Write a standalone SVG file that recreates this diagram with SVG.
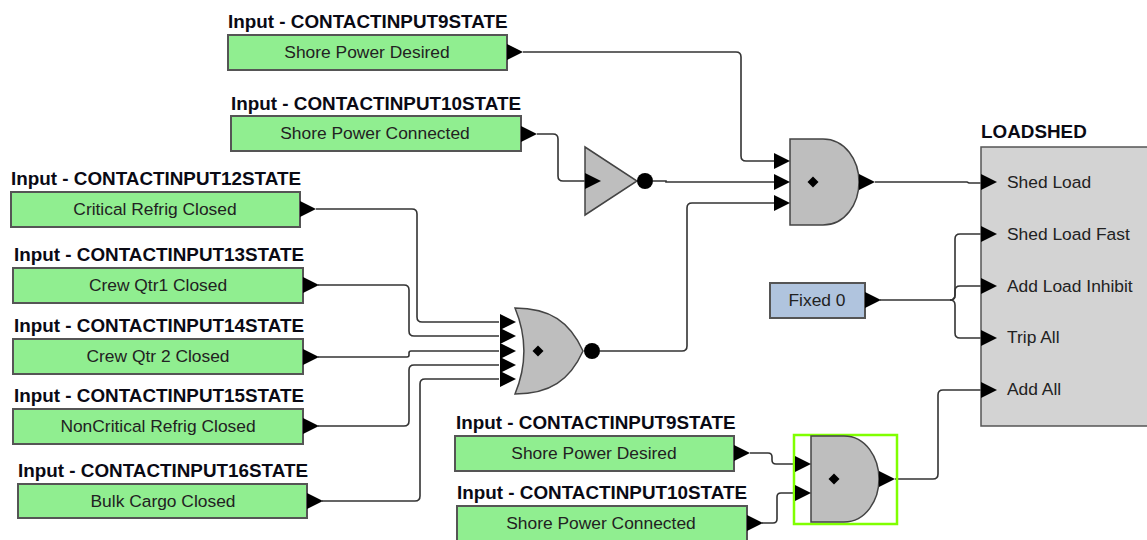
<svg xmlns="http://www.w3.org/2000/svg" width="1147" height="540" viewBox="0 0 1147 540">
<style>
text{font-family:"Liberation Sans",Arial,sans-serif;fill:#222;font-size:17.4px}
.t{font-weight:bold;fill:#0a0a14;font-size:18.85px}
.c{text-anchor:middle}
.in rect{fill:#90ee90;stroke:#555;stroke-width:2}
.fx rect{fill:#b0c4de;stroke:#555;stroke-width:2}
.g{fill:#bebebe;stroke:#444;stroke-width:1.5}
.w{fill:none;stroke:#333;stroke-width:1.6}
</style>
<defs>
<path id="a" d="M0,-8L16,0L0,8Z" fill="#000"/>
<path id="d" d="M0,-5.500L5.500,0L0,5.500L-5.500,0Z" fill="#000"/>
</defs>
<g id="connectors">
<path class="w" d="M523,52H736Q741,52 741,57V156Q741,161 746,161H774"/>
<path class="w" d="M537,134H553Q558,134 558,139V176Q558,181 563,181H585"/>
<path class="w" d="M653,181H666V182H774"/>
<path class="w" d="M600,351H682Q687,351 687,346V208Q687,203 692,203H774"/>
<path class="w" d="M875,182H967L969,183H981"/>
<path class="w" d="M880,300H950Q955,300 955,295V239Q955,234 960,234H981"/>
<path class="w" d="M950,300Q955,300 955,295V291Q955,286 960,286H981"/>
<path class="w" d="M950,300Q955,300 955,305V333Q955,338 960,338H981"/>
<path class="w" d="M895,479H933Q938,479 938,474V395Q938,390 943,390H981"/>
<path class="w" d="M750,453H768Q772,453 772,457V460Q772,464 776,464H795"/>
<path class="w" d="M762,523H773Q777,523 777,519V497Q777,493 781,493H795"/>
<path class="w" d="M316,209H412Q417,209 417,214V317Q417,322 422,322H499"/>
<path class="w" d="M318,285H404Q409,285 409,290V331Q409,336 414,336H499"/>
<path class="w" d="M318,357H407Q409,357 409,355V353Q409,351 411,351H499"/>
<path class="w" d="M318,426H404Q409,426 409,421V370Q409,365 414,365H499"/>
<path class="w" d="M322,501H415Q420,501 420,496V384Q420,379 425,379H499"/>
</g>
<g id="in9a" class="in"><text class="t" x="228" y="28">Input - CONTACTINPUT9STATE</text><rect x="228" y="35" width="279" height="35"/><text class="c" x="367" y="58">Shore Power Desired</text><use href="#a" x="507" y="52"/></g>
<g id="in10a" class="in"><text class="t" x="231" y="110">Input - CONTACTINPUT10STATE</text><rect x="231" y="116" width="290" height="35"/><text class="c" x="375" y="139">Shore Power Connected</text><use href="#a" x="521" y="134"/></g>
<g id="in12" class="in"><text class="t" x="11" y="185">Input - CONTACTINPUT12STATE</text><rect x="11" y="192" width="289" height="35"/><text class="c" x="155" y="215">Critical Refrig Closed</text><use href="#a" x="300" y="209"/></g>
<g id="in13" class="in"><text class="t" x="14" y="261">Input - CONTACTINPUT13STATE</text><rect x="13" y="268" width="290" height="35"/><text class="c" x="158" y="291">Crew Qtr1 Closed</text><use href="#a" x="303" y="285"/></g>
<g id="in14" class="in"><text class="t" x="14" y="332">Input - CONTACTINPUT14STATE</text><rect x="13" y="339" width="290" height="35"/><text class="c" x="158" y="362">Crew Qtr 2 Closed</text><use href="#a" x="303" y="357"/></g>
<g id="in15" class="in"><text class="t" x="14" y="402">Input - CONTACTINPUT15STATE</text><rect x="13" y="409" width="290" height="35"/><text class="c" x="158" y="432">NonCritical Refrig Closed</text><use href="#a" x="303" y="426"/></g>
<g id="in16" class="in"><text class="t" x="18" y="477">Input - CONTACTINPUT16STATE</text><rect x="18" y="484" width="289" height="34"/><text class="c" x="163" y="507">Bulk Cargo Closed</text><use href="#a" x="307" y="501"/></g>
<g id="in9b" class="in"><text class="t" x="456" y="429">Input - CONTACTINPUT9STATE</text><rect x="455" y="436" width="279" height="35"/><text class="c" x="594" y="459">Shore Power Desired</text><use href="#a" x="734" y="453"/></g>
<g id="in10b" class="in"><text class="t" x="457" y="499">Input - CONTACTINPUT10STATE</text><rect x="457" y="506" width="290" height="35"/><text class="c" x="601" y="529">Shore Power Connected</text><use href="#a" x="747" y="523"/></g>
<g id="not1"><path class="g" d="M585,147L637,181L585,215Z"/><use href="#a" x="585" y="181"/><circle cx="645" cy="181" r="8" fill="#000"/></g>
<g id="and1"><path class="g" d="M790,139H823C845,139 859,160 859,182C859,204 845,225 823,225H790Z"/><use href="#d" x="813" y="182"/><use href="#a" x="774" y="161"/><use href="#a" x="774" y="182"/><use href="#a" x="774" y="203"/><use href="#a" x="859" y="182"/></g>
<g id="nor1"><path class="g" d="M515,308C550,308 570,322 583,351C570,380 550,394 515,394C527,365 527,337 515,308Z"/><use href="#d" x="538" y="351"/><circle cx="592" cy="351" r="8" fill="#000"/><use href="#a" x="500" y="322"/><use href="#a" x="500" y="336"/><use href="#a" x="500" y="351"/><use href="#a" x="500" y="365"/><use href="#a" x="500" y="379"/></g>
<g id="and2"><rect x="794" y="435" width="103" height="89" fill="none" stroke="#80ff00" stroke-width="2.500"/><path class="g" d="M811,436H844C866,436 879,458 879,479C879,500 866,522 844,522H811Z"/><use href="#d" x="834" y="479"/><use href="#a" x="795" y="464"/><use href="#a" x="795" y="493"/><use href="#a" x="879" y="479"/></g>
<g id="fixed0" class="fx"><rect x="770" y="283" width="95" height="35"/><text class="c" x="817" y="306">Fixed 0</text><use href="#a" x="865" y="300"/></g>
<g id="loadshed"><text class="t" x="981" y="138">LOADSHED</text><rect x="981" y="147" width="170" height="279" fill="#d3d3d3" stroke="#555" stroke-width="1.500"/>
<use href="#a" x="981" y="182"/><use href="#a" x="981" y="234"/><use href="#a" x="981" y="286"/><use href="#a" x="981" y="338"/><use href="#a" x="981" y="390"/>
<text x="1007" y="188">Shed Load</text><text x="1007" y="240">Shed Load Fast</text><text x="1007" y="292">Add Load Inhibit</text><text x="1007" y="343">Trip All</text><text x="1007" y="395">Add All</text></g>
</svg>
